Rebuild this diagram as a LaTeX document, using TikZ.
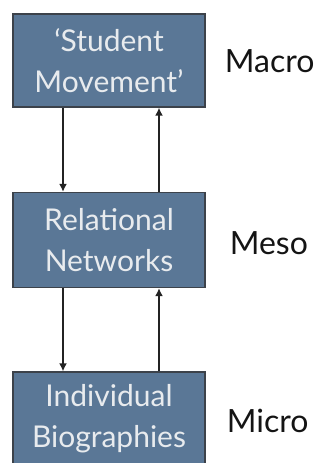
\documentclass[tikz,border=0pt]{standalone}
\usepackage{fontspec}
\setmainfont{Lato}
\usetikzlibrary{arrows.meta}
\definecolor{boxfill}{RGB}{90,119,150}
\definecolor{boxedge}{RGB}{60,66,74}
\definecolor{boxtext}{RGB}{232,235,238}
\definecolor{labtext}{RGB}{20,20,20}
\definecolor{arrowcol}{RGB}{35,35,35}
\begin{document}
\begin{tikzpicture}[x=1pt,y=1pt,
  levelbox/.style={draw=boxedge, line width=1.3pt, fill=boxfill, minimum width=192pt,
    inner sep=0pt, align=center, text=boxtext, font=\fontsize{30}{41}\selectfont},
  levellabel/.style={anchor=west, text=labtext, inner sep=0pt, font=\fontsize{32}{36}\selectfont},
  link/.style={draw=arrowcol, line width=1.9pt, -{Latex[length=8pt,width=8pt]}}
]
\useasboundingbox (0,0) rectangle (324,463);
\begin{scope}
\clip (0,0) rectangle (324,463);
\node[levelbox, minimum height=93pt] (macro) at (109,402.5) {‘Student\\Movement’};
\node[levelbox, minimum height=95pt] (meso) at (109,223) {Relational\\Networks};
\node[levelbox, minimum height=93pt] (micro) at (109,44.5) {Individual\\Biographies};
\end{scope}
\node[levellabel] (lmacro) at ([xshift=19pt,yshift=-1pt]macro.east) {Macro};
\node[levellabel] (lmeso) at ([xshift=24pt,yshift=-3pt]meso.east) {Meso};
\node[levellabel] (lmicro) at ([xshift=21pt,yshift=-2pt]micro.east) {Micro};
\draw[link] ([xshift=-46pt]macro.south) -- ([xshift=-46pt]meso.north);
\draw[link] ([xshift=50pt]meso.north) -- ([xshift=50pt]macro.south);
\draw[link] ([xshift=-46pt]meso.south) -- ([xshift=-46pt]micro.north);
\draw[link] ([xshift=50pt]micro.north) -- ([xshift=50pt]meso.south);
\end{tikzpicture}
\end{document}
